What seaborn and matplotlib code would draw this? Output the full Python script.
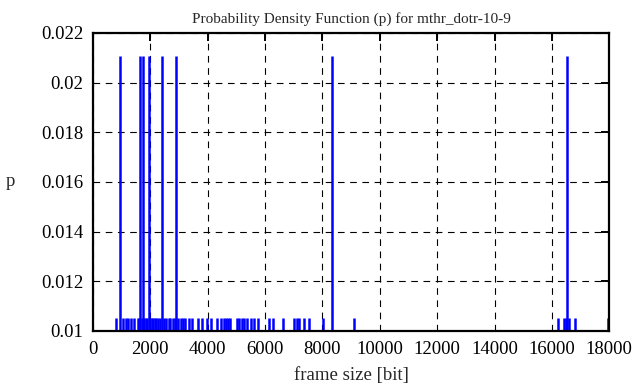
import pandas as pd
import matplotlib
matplotlib.use("Agg")
import matplotlib.pyplot as plt
import seaborn as sns

# === data (frame size in bit, probability p) ===
tall_x = [955, 1650, 1745, 1940, 2405, 2905, 8330, 16515]
tall_p = [0.02105] * len(tall_x)

small_x = [820, 1050, 1140, 1225, 1325, 1440, 1560, 1600, 1700, 1800, 1850,
           1895, 1990, 2050, 2100, 2150, 2200, 2270, 2350, 2487, 2560, 2637,
           2700, 2776, 2850, 2980, 3072, 3150, 3218, 3368, 3473, 3671, 3810,
           3995, 4113, 4333, 4460, 4560, 4635, 4700, 4775, 5040, 5110, 5190,
           5260, 5367, 5507, 5622, 5761, 6155, 6272, 6620, 7020, 7110, 7200,
           7363, 7537, 8020, 9105, 16210, 16425, 16480, 16585, 16790, 17950]
small_p = [0.01053] * len(small_x)

x_ticks = list(range(0, 18001, 2000))
y_ticks = [0.010, 0.012, 0.014, 0.016, 0.018, 0.020, 0.022]
y_labels = ["0.01", "0.012", "0.014", "0.016", "0.018", "0.02", "0.022"]

# === long-form table: each impulse = two points (base and top) ===
rows = []
for i, (x, p) in enumerate(zip(tall_x + small_x, tall_p + small_p)):
    rows.append({"id": i, "size": x, "p": 0.0})
    rows.append({"id": i, "size": x, "p": p})
df = pd.DataFrame(rows)

sns.set_theme(style="white")
plt.rcParams["font.family"] = ["Liberation Serif", "DejaVu Serif"]

fig = plt.figure(figsize=(6.36, 3.87), dpi=100)
ax = fig.add_axes([0.146, 0.145, 0.812, 0.770])

sns.lineplot(data=df, x="size", y="p", units="id", estimator=None,
             color="#0000ff", lw=1.8, ax=ax, legend=False, zorder=3,
             solid_capstyle="butt")

ax.set_xlim(0, 18000)
ax.set_ylim(0.01, 0.022)
ax.set_xticks(x_ticks)
ax.set_xticklabels([str(t) for t in x_ticks])
ax.set_yticks(y_ticks)
ax.set_yticklabels(y_labels)

ax.grid(True, color="black", linestyle=(0, (6, 5)), linewidth=0.8)
ax.set_axisbelow(True)
for s in ax.spines.values():
    s.set_color("black")
    s.set_linewidth(1.6)
    s.set_zorder(4)
ax.tick_params(direction="in", length=6, width=1.4, colors="black",
               top=True, right=True, labelsize=13.5, pad=7)

ax.set_xlabel("frame size [bit]", fontsize=13.5, labelpad=7)
ax.set_ylabel("p", fontsize=13.5, rotation=0, labelpad=22, va="center")
ax.set_title("Probability Density Function (p) for mthr_dotr-10-9",
             fontsize=11, pad=7)

fig.savefig("out.png", dpi=100)
